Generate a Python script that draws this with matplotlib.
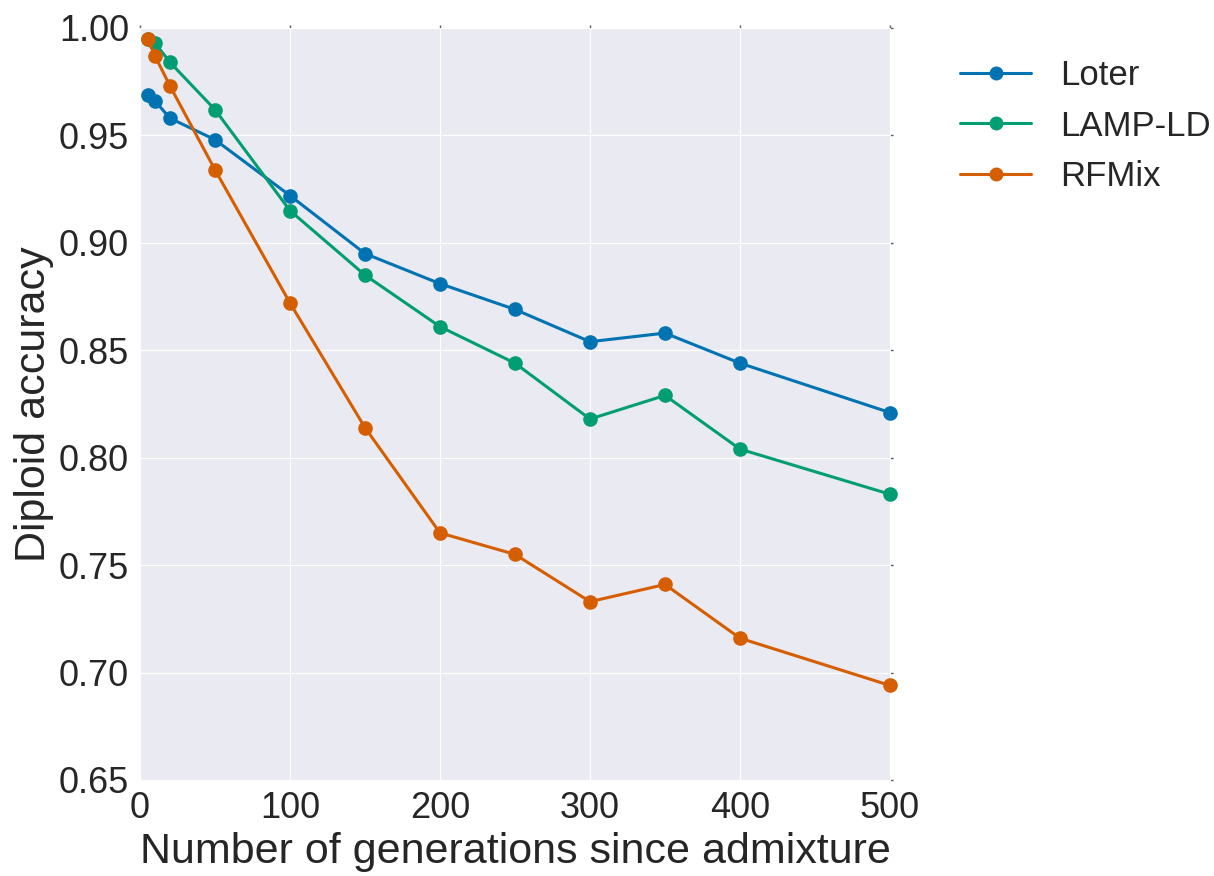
import numpy as np
import matplotlib.pyplot as plt
import seaborn as sns

# Generations since admixture
generations = [5, 10, 20, 50, 100, 150, 200, 250, 300, 350, 400, 500]

# Diploid accuracy per method
loter = [0.969, 0.966, 0.958, 0.948, 0.922, 0.895, 0.881, 0.869, 0.854, 0.858, 0.844, 0.821]
lamp_ld = [0.995, 0.993, 0.984, 0.962, 0.915, 0.885, 0.861, 0.844, 0.818, 0.829, 0.804, 0.783]
rfmix = [0.995, 0.987, 0.973, 0.934, 0.872, 0.814, 0.765, 0.755, 0.733, 0.741, 0.716, 0.694]

sns.set_style("darkgrid")
plt.rcParams['font.family'] = ['Liberation Sans', 'DejaVu Sans']

colors = sns.color_palette("colorblind")

fig = plt.figure(figsize=(12.14, 8.76), dpi=100)
ax = fig.add_axes([140 / 1214, 1 - 780 / 876, 750 / 1214, 752 / 876])

ax.plot(generations, loter, '-o', color=colors[0], lw=2.2, ms=9.5, label='Loter', clip_on=False, zorder=3)
ax.plot(generations, lamp_ld, '-o', color=colors[2], lw=2.2, ms=9.5, label='LAMP-LD', clip_on=False, zorder=3)
ax.plot(generations, rfmix, '-o', color=colors[3], lw=2.2, ms=9.5, label='RFMix', clip_on=False, zorder=3)

ax.set_xlim(0, 500)
ax.set_ylim(0.65, 1.0)
ax.set_xticks(np.arange(0, 501, 100))
ax.set_yticks(np.arange(0.65, 1.001, 0.05))
ax.set_yticklabels(['%.2f' % v for v in np.arange(0.65, 1.001, 0.05)])
ax.tick_params(axis='both', labelsize=26, colors='#262626', direction='out',
               top=True, right=True, length=2, width=1, color='#555555', pad=6)
ax.set_xlabel('Number of generations since admixture', fontsize=31, color='#262626', labelpad=4)
ax.set_ylabel('Diploid accuracy', fontsize=31, color='#262626', labelpad=3)

ax.legend(loc='upper left', bbox_to_anchor=(1.052, 1.0), frameon=False, fontsize=25,
          handlelength=2.05, labelspacing=0.5, handletextpad=0.83, markerscale=0.95)

fig.savefig('out.png', dpi=100)
